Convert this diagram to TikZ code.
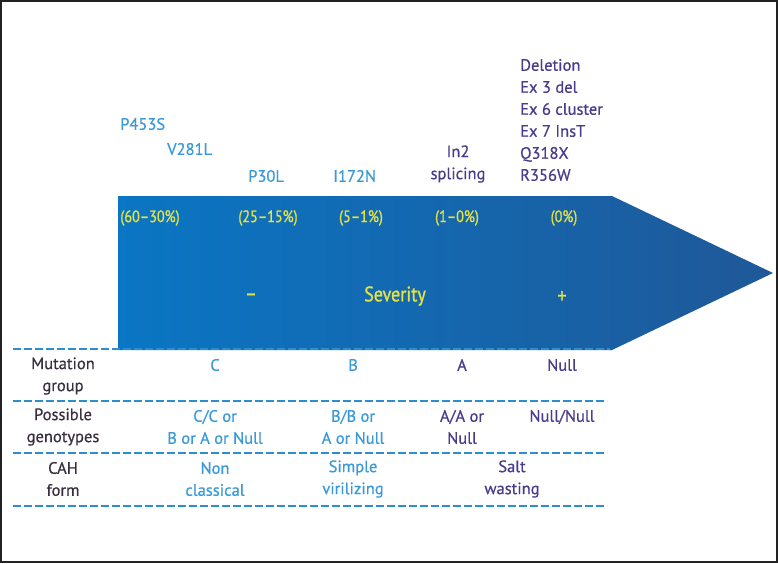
\documentclass[tikz,border=0pt]{standalone}
\usepackage{fontspec}
\setmainfont{PT Sans}[FakeBold=0.6]
\newfontfamily\condfont{PT Sans}[FakeStretch=0.86, FakeBold=1.0]
\usetikzlibrary{positioning}
\definecolor{lblue}{HTML}{3A9AD8}
\definecolor{purp}{HTML}{4A3B8C}
\definecolor{dark}{HTML}{3A2F3E}
\definecolor{yel}{HTML}{E6E244}
\definecolor{dashc}{HTML}{2C8ED0}
\definecolor{arrL}{HTML}{0A76C4}
\definecolor{arrM}{HTML}{0B6DB8}
\definecolor{arrR}{HTML}{1F5898}
\definecolor{frame}{HTML}{222222}
\tikzset{
  txt/.style={inner sep=0pt, font=\fontsize{16.5}{22}\selectfont, align=center},
  lb/.style={txt, text=lblue},
  pu/.style={txt, text=purp},
  dk/.style={txt, text=dark},
  ye/.style={txt, text=yel, font=\condfont\fontsize{16.5}{22}\selectfont},
  yebig/.style={txt, text=yel, font=\condfont\fontsize{21}{22}\selectfont},
  sep/.style={draw=dashc, line width=1.6pt, dash pattern=on 8pt off 3pt},
}
\begin{document}
\begin{tikzpicture}[x=1pt,y=-1pt]
\useasboundingbox (0,0) rectangle (778,563);
\draw[frame, line width=2.5pt] (1,1) rectangle (777,562);
% arrow
\shade[left color=arrL, middle color=arrM, right color=arrR]
  (118,196) -- (612,196) -- (773,273) -- (612,350) -- (118,350) -- cycle;
% separators
\draw[sep] (13,349) -- (610,349);
\draw[sep] (13,401) -- (607,401);
\draw[sep] (13,453) -- (607,453);
\draw[sep] (13,506) -- (607,506);
% top mutation labels
\node[lb, anchor=west] (p453) at (120,124) {P453S};
\node[lb, anchor=west] (v281) at (167,149) {V281L};
\node[lb, anchor=west] (p30) at (248,176) {P30L};
\node[lb, anchor=west] (i172) at (333,176) {I172N};
\node[pu] (in2) at (458,164) {In2\\splicing};
\node[pu, anchor=west, align=left] (del) at (520,120)
  {Deletion\\Ex 3 del\\Ex 6 cluster\\Ex 7 InsT\\Q318X\\R356W};
% percentages
\node[ye] (pc1) at (150,218) {(60–30\%)};
\node[ye] (pc2) at (268,218) {(25–15\%)};
\node[ye] (pc3) at (361,218) {(5–1\%)};
\node[ye] (pc4) at (457,218) {(1–0\%)};
\node[ye] (pc5) at (564,218) {(0\%)};
\node[yebig] (minus) at (251,297) {–};
\node[yebig] (sev) at (395,296) {Severity};
\node[yebig] (plus) at (562,297) {+};
% table
\node[dk] (mg) at (63,376) {Mutation\\group};
\node[lb] (c) at (215,365) {C};
\node[lb] (b) at (353,365) {B};
\node[pu] (a) at (462,365) {A};
\node[pu] (nl) at (562,365) {Null};
\node[dk] (pg) at (63,427) {Possible\\genotypes};
\node[lb] (gc) at (215,427) {C/C or\\B or A or Null};
\node[lb] (gb) at (353,427) {B/B or\\A or Null};
\node[pu] (ga) at (462,427) {A/A or\\Null};
\node[pu] (gn) at (562,417) {Null/Null};
\node[dk] (cf) at (63,479) {CAH\\form};
\node[lb] (fn) at (215,479) {Non\\classical};
\node[lb] (fs) at (353,479) {Simple\\virilizing};
\node[pu] (fw) at (512,479) {Salt\\wasting};
\end{tikzpicture}
\end{document}
